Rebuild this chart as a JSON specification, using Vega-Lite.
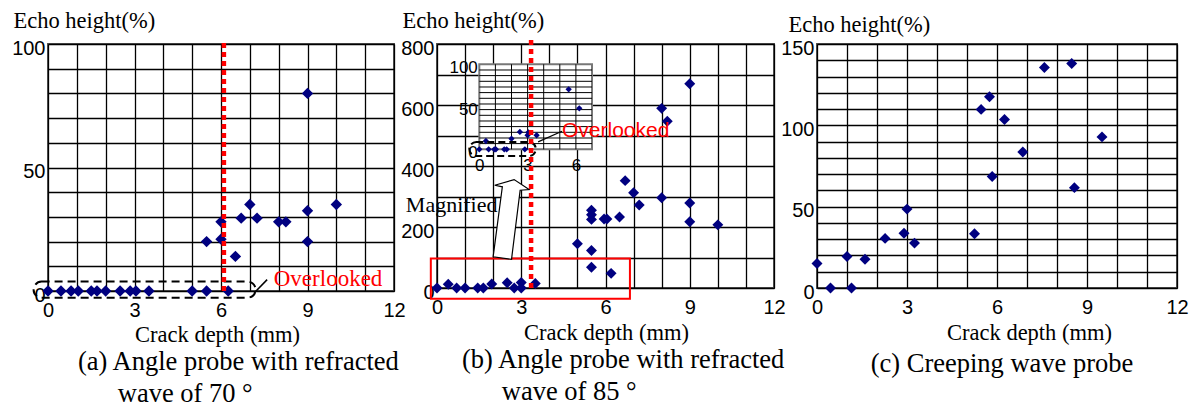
{
  "$schema": "https://vega.github.io/schema/vega-lite/v6.json",
  "padding": {"left": 10, "top": 8, "right": 10, "bottom": 5},
  "background": "white",
  "bounds": "flush",
  "spacing": 43,
  "config": {
    "view": {"stroke": "#555", "strokeWidth": 2},
    "axis": {"grid": true, "gridColor": "#000", "gridWidth": 1.3, "gridOpacity": 1, "domain": false, "ticks": false,
      "labelFont": "Liberation Sans", "labelFontSize": 20, "labelColor": "#000", "titleFont": "Liberation Serif",
      "titleFontSize": 22.5, "titleFontWeight": "normal", "titleColor": "#000", "labelFlush": false, "labelOverlap": false}
  },
  "hconcat": [
    {
      "width": 346, "height": 247,
      "title": {"text": ["(a) Angle probe with refracted", "\u200b\u00a0\u00a0\u00a0\u00a0\u00a0\u00a0wave of 70 °"], "orient": "bottom", "anchor": "start", "frame": "group", "dx": 30, "offset": 3, "font": "Liberation Serif", "fontSize": 26.5, "fontWeight": "normal", "lineHeight": 32, "color": "#000"},
      "encoding": {
        "x": {"field": "x", "type": "quantitative", "scale": {"domain": [0, 12], "nice": false, "zero": false},
          "axis": {"values": [0,1,2,3,4,5,6,7,8,9,10,11,12], "labelExpr": "datum.value % 3 === 0 ? datum.label : ''", "title": "Crack depth (mm)", "titleX": 169, "titleY": 43, "titleBaseline": "middle", "labelPadding": 9}},
        "y": {"field": "y", "type": "quantitative", "scale": {"domain": [0, 100], "nice": false, "zero": false},
          "axis": {"values": [0,10,20,30,40,50,60,70,80,90,100], "labelExpr": "datum.value % 50 === 0 ? datum.label : ''", "title": "Echo height(%)", "titleAngle": 0, "titleAlign": "left", "titleBaseline": "alphabetic", "titleX": -35, "titleY": -17, "labelPadding": 3, "labelOffset": 4}}
      },
      "layer": [
        {
          "data": {"values": [
            {"x": 0, "y": 0}, {"x": 0.45, "y": 0}, {"x": 0.8, "y": 0}, {"x": 1.05, "y": 0}, {"x": 1.5, "y": 0},
            {"x": 1.7, "y": 0}, {"x": 2.0, "y": 0}, {"x": 2.5, "y": 0}, {"x": 2.85, "y": 0}, {"x": 3.05, "y": 0},
            {"x": 3.5, "y": 0}, {"x": 5.0, "y": 0}, {"x": 5.5, "y": 0}, {"x": 6.25, "y": 0},
            {"x": 7.0, "y": 35}, {"x": 10.0, "y": 35}, {"x": 9.0, "y": 32.5}, {"x": 6.7, "y": 29.5}, {"x": 7.25, "y": 29.5},
            {"x": 6.0, "y": 28}, {"x": 8.0, "y": 28}, {"x": 8.25, "y": 28}, {"x": 5.5, "y": 20}, {"x": 6.0, "y": 21},
            {"x": 9.0, "y": 20}, {"x": 6.5, "y": 14}, {"x": 9.0, "y": 80}
          ]},
          "mark": {"type": "point", "shape": "diamond", "filled": true, "color": "#000080", "size": 130, "opacity": 1}
        },
        {
          "data": {"values": [{"x": -0.5, "x2": 7.2, "y": -2.7, "y2": 3.8}]},
          "mark": {"type": "rect", "filled": false, "stroke": "#000", "strokeWidth": 2, "strokeDash": [8, 5], "cornerRadius": 8},
          "encoding": {"x2": {"field": "x2"}, "y2": {"field": "y2"}}
        },
        {
          "data": {"values": [{"x": 7.15, "y": -0.8, "x2": 7.6, "y2": 4.6}]},
          "mark": {"type": "rule", "color": "#000", "strokeWidth": 1.5},
          "encoding": {"x2": {"field": "x2"}, "y2": {"field": "y2"}}
        },
        {
          "data": {"values": [{"x": 6.1, "y": 0, "y2": 102}]},
          "mark": {"type": "rule", "color": "#ff0000", "strokeWidth": 4.5, "strokeDash": [5, 4]},
          "encoding": {"y2": {"field": "y2"}}
        },
        {
          "data": {"values": [{"x": 7.83, "y": 4.7, "label": "Overlooked"}]},
          "mark": {"type": "text", "font": "Liberation Serif", "fontSize": 23, "color": "#ff0000", "align": "left", "baseline": "middle"},
          "encoding": {"text": {"field": "label"}}
        }
      ]
    },
    {
      "width": 337, "height": 244,
      "title": {"text": ["(b) Angle probe with refracted", "\u200b\u00a0\u00a0\u00a0\u00a0\u00a0\u00a0wave of 85 °"], "orient": "bottom", "anchor": "start", "frame": "group", "dx": 25, "offset": 3, "font": "Liberation Serif", "fontSize": 26.5, "fontWeight": "normal", "lineHeight": 32, "color": "#000"},
      "resolve": {"scale": {"x": "independent", "y": "independent"}, "axis": {"x": "independent", "y": "independent"}},
      "layer": [
        {
          "encoding": {
            "x": {"field": "x", "type": "quantitative", "scale": {"domain": [0, 12], "nice": false, "zero": false},
              "axis": {"orient": "bottom", "values": [0,1,2,3,4,5,6,7,8,9,10,11,12], "labelExpr": "datum.value % 3 === 0 ? datum.label : ''", "title": "Crack depth (mm)", "titleX": 169, "titleY": 44, "titleBaseline": "middle", "labelPadding": 9}},
            "y": {"field": "y", "type": "quantitative", "scale": {"domain": [0, 800], "nice": false, "zero": false},
              "axis": {"orient": "left", "values": [0,100,200,300,400,500,600,700,800], "labelExpr": "datum.value % 200 === 0 ? datum.label : ''", "title": "Echo height(%)", "titleAngle": 0, "titleAlign": "left", "titleBaseline": "alphabetic", "titleX": -35, "titleY": -17, "labelPadding": 3, "labelOffset": 4}}
          },
          "layer": [
            {
              "data": {"values": [
                {"x": 0, "y": 0}, {"x": 0.4, "y": 12}, {"x": 0.7, "y": 0}, {"x": 1.0, "y": 0}, {"x": 1.45, "y": 0},
                {"x": 1.65, "y": 0}, {"x": 1.95, "y": 13}, {"x": 2.5, "y": 17}, {"x": 2.75, "y": 0}, {"x": 3.0, "y": 0},
                {"x": 3.0, "y": 18}, {"x": 3.5, "y": 15},
                {"x": 5.0, "y": 145}, {"x": 5.5, "y": 68}, {"x": 5.5, "y": 123}, {"x": 5.5, "y": 225}, {"x": 5.5, "y": 240},
                {"x": 5.5, "y": 255}, {"x": 5.95, "y": 226}, {"x": 6.05, "y": 226}, {"x": 6.2, "y": 48}, {"x": 6.5, "y": 233},
                {"x": 6.7, "y": 352}, {"x": 7.0, "y": 312}, {"x": 7.2, "y": 272}, {"x": 8.0, "y": 296}, {"x": 8.0, "y": 589},
                {"x": 8.2, "y": 547}, {"x": 9.0, "y": 670}, {"x": 9.0, "y": 279}, {"x": 9.0, "y": 217}, {"x": 10.0, "y": 207}
              ]},
              "mark": {"type": "point", "shape": "diamond", "filled": true, "color": "#000080", "size": 120, "opacity": 1}
            },
            {
              "data": {"values": [{"x": -1.11, "y": 272, "label": "Magnified"}]},
              "mark": {"type": "text", "font": "Liberation Serif", "fontSize": 22, "color": "#000", "align": "left", "baseline": "middle"},
              "encoding": {"text": {"field": "label"}}
            },
            {
              "data": {"values": [{"x": -0.22, "x2": 6.87, "y": -35, "y2": 97}]},
              "mark": {"type": "rect", "filled": false, "stroke": "#ff0000", "strokeWidth": 2},
              "encoding": {"x2": {"field": "x2"}, "y2": {"field": "y2"}}
            },
            {
              "data": {"values": [{"x": 2.64, "y": 225.5}]},
              "mark": {"type": "point", "shape": "M-0.45,0.94L-0.22,-0.81L-0.41,-0.85L0.075,-0.99L0.45,-0.74L0.225,-0.725L0.01,1Z", "size": 6400, "filled": true, "fill": "#fff", "stroke": "#000", "strokeWidth": 1.2, "opacity": 1, "fillOpacity": 1, "strokeOpacity": 1}
            }
          ]
        },
        {
          "encoding": {
            "x": {"field": "x", "type": "quantitative", "scale": {"domain": [0, 7], "range": [42.3, 155], "nice": false, "zero": false},
              "axis": {"orient": "bottom", "offset": -138.7, "values": [0, 3, 6], "grid": false, "title": null, "labelFontSize": 17, "labelPadding": 8}},
            "y": {"field": "y", "type": "quantitative", "scale": {"domain": [0, 100], "range": [105.3, 20.3], "nice": false, "zero": false},
              "axis": {"orient": "left", "offset": -42.3, "values": [0, 50, 100], "grid": false, "title": null, "labelFontSize": 17, "labelPadding": 2, "labelOffset": 3}}
          },
          "layer": [
            {
              "data": {"values": [{"x": 0, "x2": 7, "y": 0, "y2": 100}]},
              "mark": {"type": "rect", "fill": "#fff", "stroke": "#777", "strokeWidth": 2},
              "encoding": {"x2": {"field": "x2"}, "y2": {"field": "y2"}}
            },
            {
              "data": {"values": [
                {"x": 1, "y": 0, "y2": 100}, {"x": 2, "y": 0, "y2": 100}, {"x": 3, "y": 0, "y2": 100},
                {"x": 4, "y": 0, "y2": 100}, {"x": 5, "y": 0, "y2": 100}, {"x": 6, "y": 0, "y2": 100}
              ]},
              "mark": {"type": "rule", "color": "#000", "strokeWidth": 1},
              "encoding": {"y2": {"field": "y2"}}
            },
            {
              "data": {"values": [
                {"x": 0, "x2": 7, "y": 6.7}, {"x": 0, "x2": 7, "y": 13.3}, {"x": 0, "x2": 7, "y": 20}, {"x": 0, "x2": 7, "y": 26.7},
                {"x": 0, "x2": 7, "y": 33.3}, {"x": 0, "x2": 7, "y": 40}, {"x": 0, "x2": 7, "y": 46.7}, {"x": 0, "x2": 7, "y": 53.3},
                {"x": 0, "x2": 7, "y": 60}, {"x": 0, "x2": 7, "y": 66.7}, {"x": 0, "x2": 7, "y": 73.3}, {"x": 0, "x2": 7, "y": 80},
                {"x": 0, "x2": 7, "y": 86.7}, {"x": 0, "x2": 7, "y": 93.3}
              ]},
              "mark": {"type": "rule", "color": "#000", "strokeWidth": 1},
              "encoding": {"x2": {"field": "x2"}}
            },
            {
              "data": {"values": [
                {"x": 0, "y": 0}, {"x": 0.41, "y": 9.8}, {"x": 0.58, "y": 0}, {"x": 0.93, "y": 0}, {"x": 1.03, "y": 0},
                {"x": 1.55, "y": 0}, {"x": 1.7, "y": 0}, {"x": 2.0, "y": 12.5}, {"x": 2.52, "y": 20.4}, {"x": 2.83, "y": 0},
                {"x": 3.0, "y": 16.5}, {"x": 3.05, "y": 20}, {"x": 3.56, "y": 16.5}, {"x": 5.55, "y": 70.6}, {"x": 6.21, "y": 48.2}
              ]},
              "mark": {"type": "point", "shape": "diamond", "filled": true, "color": "#000080", "size": 40, "opacity": 1}
            },
            {
              "data": {"values": [{"x": -0.62, "x2": 3.51, "y": -7.9, "y2": 8.6}]},
              "mark": {"type": "rect", "filled": false, "stroke": "#000", "strokeWidth": 2, "strokeDash": [7, 4], "cornerRadius": 7},
              "encoding": {"x2": {"field": "x2"}, "y2": {"field": "y2"}}
            }
          ]
        },
        {
          "encoding": {
            "x": {"field": "x", "type": "quantitative", "scale": {"domain": [0, 12], "nice": false, "zero": false}, "axis": null},
            "y": {"field": "y", "type": "quantitative", "scale": {"domain": [0, 800], "nice": false, "zero": false}, "axis": null}
          },
          "layer": [
            {
              "data": {"values": [{"x": 3.35, "y": 0, "y2": 822}]},
              "mark": {"type": "rule", "color": "#ff0000", "strokeWidth": 4.5, "strokeDash": [5, 4]},
              "encoding": {"y2": {"field": "y2"}}
            },
            {
              "data": {"values": [{"x": 3.6, "y": 479, "x2": 4.45, "y2": 514}]},
              "mark": {"type": "rule", "color": "#000", "strokeWidth": 1.2},
              "encoding": {"x2": {"field": "x2"}, "y2": {"field": "y2"}}
            },
            {
              "data": {"values": [{"x": 4.45, "y": 516, "label": "Overlooked"}]},
              "mark": {"type": "text", "font": "Liberation Sans", "fontSize": 21, "color": "#ff0000", "align": "left", "baseline": "middle"},
              "encoding": {"text": {"field": "label"}}
            }
          ]
        }
      ]
    },
    {
      "width": 360, "height": 244,
      "title": {"text": "(c) Creeping wave probe", "orient": "bottom", "anchor": "middle", "frame": "group", "dx": 5, "offset": 7, "font": "Liberation Serif", "fontSize": 26.5, "fontWeight": "normal", "color": "#000"},
      "data": {"values": [
        {"x": 0, "y": 15}, {"x": 0.45, "y": 0}, {"x": 1.0, "y": 19.4}, {"x": 1.15, "y": 0}, {"x": 1.6, "y": 17.7},
        {"x": 2.27, "y": 30.5}, {"x": 2.9, "y": 33.6}, {"x": 3.0, "y": 48.5}, {"x": 3.25, "y": 27.6}, {"x": 5.25, "y": 33.4},
        {"x": 5.47, "y": 109.8}, {"x": 5.75, "y": 117.6}, {"x": 5.84, "y": 68.5}, {"x": 6.25, "y": 103.6}, {"x": 6.86, "y": 83.6},
        {"x": 7.58, "y": 135.6}, {"x": 8.49, "y": 138}, {"x": 8.58, "y": 61.7}, {"x": 9.5, "y": 92.9}
      ]},
      "mark": {"type": "point", "shape": "diamond", "filled": true, "color": "#000080", "size": 120, "opacity": 1},
      "encoding": {
        "x": {"field": "x", "type": "quantitative", "scale": {"domain": [0, 12], "nice": false, "zero": false},
          "axis": {"values": [0,1,2,3,4,5,6,7,8,9,10,11,12], "labelExpr": "datum.value % 3 === 0 ? datum.label : ''", "title": "Crack depth (mm)", "titleX": 212, "titleY": 44, "titleBaseline": "middle", "labelPadding": 9}},
        "y": {"field": "y", "type": "quantitative", "scale": {"domain": [0, 150], "nice": false, "zero": false},
          "axis": {"values": [0,10,20,30,40,50,60,70,80,90,100,110,120,130,140,150], "labelExpr": "datum.value % 50 === 0 ? datum.label : ''", "title": "Echo height(%)", "titleAngle": 0, "titleAlign": "left", "titleBaseline": "alphabetic", "titleX": -29, "titleY": -13, "labelPadding": 3, "labelOffset": 4}}
      }
    }
  ]
}
